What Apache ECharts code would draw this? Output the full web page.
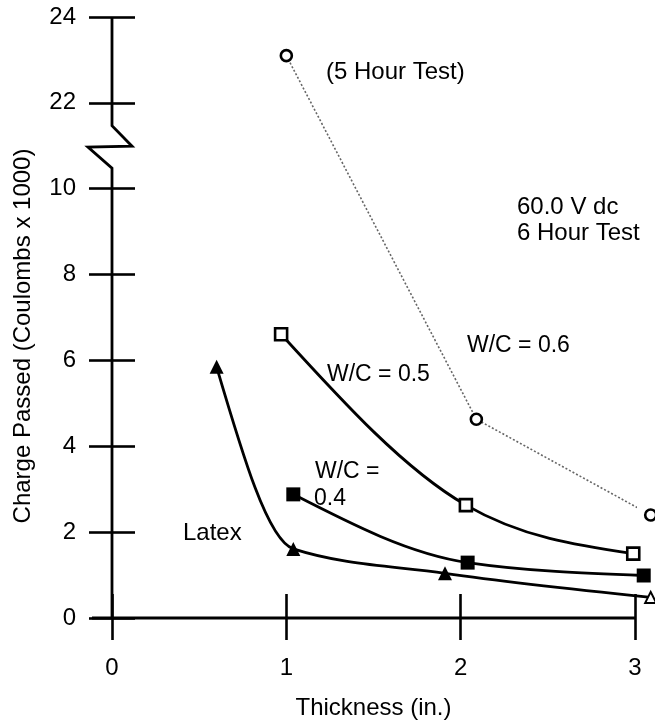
<!DOCTYPE html>
<html><head><meta charset="utf-8">
<script src="https://cdn.jsdelivr.net/npm/echarts@6/dist/echarts.min.js"></script>
<style>html,body{margin:0;padding:0;background:#fff}#c{width:655px;height:725px}</style>
</head><body><div id="c"></div>
<script>
// ---- data (thickness in inches, charge passed in Coulombs x 1000) ----
const xTicks = [0, 1, 2, 3];
const yTickLabels = ['0', '2', '4', '6', '8', '10', '22', '24'];

const wc06X = [1.00, 2.09, 3.09];
const wc06Y = [23.1, 4.63, 2.40];

const wc05X = [0.97, 2.03, 2.99];
const wc05Y = [6.61, 2.63, 1.50];

const wc04X = [1.04, 2.04, 3.05];
const wc04Y = [2.88, 1.29, 0.99];

const latexX = [0.60, 1.04, 1.91, 3.09];
const latexY = [5.85, 1.61, 1.04, 0.48];

// broken y axis: values from 21 up are drawn 10 units lower (11..20 cut out)
const BREAK_SHIFT = 10;
function toAxis(v) { return v >= 20 ? v - BREAK_SHIFT : v; }

// axis decoration (axis units): spine with the break mark, x-axis line
const spinePts = [[0, 0], [0, 10.48], [-0.138, 10.97], [0.115, 10.99], [0, 11.47], [0, 14]];
const xLinePts = [[-0.115, 0], [3, 0]];

function zip(xs, ys) { return xs.map((x, i) => [x, toAxis(ys[i])]); }

const FONT = '"Liberation Sans", Arial, sans-serif';
const chart = echarts.init(document.getElementById('c'), null, {renderer: 'canvas'});

const tickStyle = {color: '#000', width: 2.6};
function xAx(inside, labels) {
  return {
    type: 'value', min: 0, max: 3, interval: 1, position: 'bottom',
    axisLine: {show: false, onZero: false},
    axisTick: {show: true, inside: inside, length: inside ? 24 : 22, lineStyle: tickStyle},
    axisLabel: {show: labels, color: '#000', fontSize: 24, fontFamily: FONT, margin: 38,
      formatter: v => String(xTicks[Math.round(v)])},
    splitLine: {show: false},
    name: labels ? 'Thickness (in.)' : '', nameLocation: 'middle', nameGap: 78,
    nameTextStyle: {color: '#000', fontSize: 24, fontFamily: FONT}
  };
}
function yAx(inside, labels) {
  return {
    type: 'value', min: 0, max: 14, interval: 2, position: 'left',
    axisLine: {show: false, onZero: false},
    axisTick: {show: true, inside: inside, length: 23, lineStyle: tickStyle},
    axisLabel: {show: labels, color: '#000', fontSize: 24, fontFamily: FONT, margin: 36,
      formatter: v => yTickLabels[Math.round(v / 2)]},
    splitLine: {show: false}
  };
}

// monotone cubic (Fritsch-Carlson, as d3.curveMonotoneX) through pixel points
function monoPath(p) {
  const n = p.length, h = [], s = [], t = new Array(n);
  for (let i = 0; i < n - 1; i++) { h[i] = p[i + 1][0] - p[i][0]; s[i] = (p[i + 1][1] - p[i][1]) / h[i]; }
  for (let i = 1; i < n - 1; i++) {
    const a = s[i - 1], b = s[i];
    if (a * b <= 0) { t[i] = 0; continue; }
    const q = (a * h[i] + b * h[i - 1]) / (h[i - 1] + h[i]);
    t[i] = (Math.sign(a) + Math.sign(b)) * Math.min(Math.abs(a), Math.abs(b), 0.5 * Math.abs(q));
  }
  t[0] = n > 2 ? (3 * s[0] - t[1]) / 2 : s[0];
  t[n - 1] = n > 2 ? (3 * s[n - 2] - t[n - 2]) / 2 : s[0];
  let d = 'M' + p[0][0] + ' ' + p[0][1];
  for (let i = 0; i < n - 1; i++) {
    const k = h[i] / 3;
    d += ' C' + (p[i][0] + k) + ' ' + (p[i][1] + t[i] * k) + ' ' +
         (p[i + 1][0] - k) + ' ' + (p[i + 1][1] - t[i + 1] * k) + ' ' +
         p[i + 1][0] + ' ' + p[i + 1][1];
  }
  return d;
}

function curveSeries(name, pts) {
  return {
    type: 'custom', name: name, data: [pts[0]], clip: false, silent: true, z: 4,
    renderItem: function (params, api) {
      const px = pts.map(q => api.coord(q));
      return {type: 'path', shape: {pathData: monoPath(px)},
        style: {stroke: '#000', lineWidth: 2.8, fill: 'none'}};
    }
  };
}

const hollow = {color: '#fff', borderColor: '#000', borderWidth: 2.6, opacity: 1};

const wc05 = zip(wc05X, wc05Y), wc04 = zip(wc04X, wc04Y), latex = zip(latexX, latexY);
const latexMarks = latex.map((p, i, arr) => i === arr.length - 1
  ? {value: p, symbolSize: 11, itemStyle: {color: '#fff', borderColor: '#000', borderWidth: 2, opacity: 1}}
  : {value: p});

function txt(text, x, y, size) {
  return {type: 'text', x: x, y: y, z: 100,
    style: {text: text, font: (size || 24) + 'px ' + FONT, fill: '#000', align: 'left', verticalAlign: 'middle'}};
}

chart.setOption({
  animation: false,
  backgroundColor: '#fff',
  grid: {left: 112, right: 20, top: 17, bottom: 102, containLabel: false},
  xAxis: [xAx(false, true), xAx(true, false)],
  yAxis: [yAx(false, true), yAx(true, false)],
  series: [
    {type: 'line', name: 'W/C = 0.6', data: zip(wc06X, wc06Y), clip: false,
      symbol: 'circle', symbolSize: 11, itemStyle: hollow,
      lineStyle: {color: '#666', width: 1.6, type: [2, 2]}, z: 6},
    curveSeries('W/C = 0.5 curve', wc05),
    {type: 'scatter', name: 'W/C = 0.5', data: wc05, clip: false,
      symbol: 'rect', symbolSize: 12, itemStyle: hollow, z: 6},
    curveSeries('W/C = 0.4 curve', wc04),
    {type: 'scatter', name: 'W/C = 0.4', data: wc04, clip: false,
      symbol: 'rect', symbolSize: 14, itemStyle: {color: '#000', opacity: 1}, z: 6},
    curveSeries('Latex curve', latex),
    {type: 'scatter', name: 'Latex', data: latexMarks, clip: false,
      symbol: 'triangle', symbolSize: 14, itemStyle: {color: '#000', opacity: 1}, z: 6}
  ],
  graphic: [
    {type: 'text', x: 23, y: 336, rotation: Math.PI / 2, z: 100,
      style: {text: 'Charge Passed (Coulombs x 1000)', font: '24px ' + FONT, fill: '#000',
        align: 'center', verticalAlign: 'middle'}},
    txt('(5 Hour Test)', 326, 72),
    txt('60.0 V dc', 517, 207),
    txt('6 Hour Test', 517, 233),
    txt('W/C = 0.6', 467, 346, 23),
    txt('W/C = 0.5', 327, 375, 23),
    txt('W/C =', 315, 472, 23),
    txt('0.4', 314, 499, 23),
    txt('Latex', 183, 533)
  ]
});

// draw spine (with break) and x-axis line from the axis scales, extrapolating linearly
function toPx(q) {
  const o = chart.convertToPixel({gridIndex: 0}, [0, 0]);
  const u = chart.convertToPixel({gridIndex: 0}, [1, 1]);
  return [o[0] + q[0] * (u[0] - o[0]), o[1] + q[1] * (u[1] - o[1])];
}
chart.setOption({
  graphic: [
    {type: 'polyline', id: 'spine', z: 50, shape: {points: spinePts.map(toPx)},
      style: {stroke: '#000', lineWidth: 2.8, fill: null, lineJoin: 'miter'}},
    {type: 'polyline', id: 'xline', z: 50, shape: {points: xLinePts.map(toPx)},
      style: {stroke: '#000', lineWidth: 2.8, fill: null}}
  ]
});
</script></body></html>
